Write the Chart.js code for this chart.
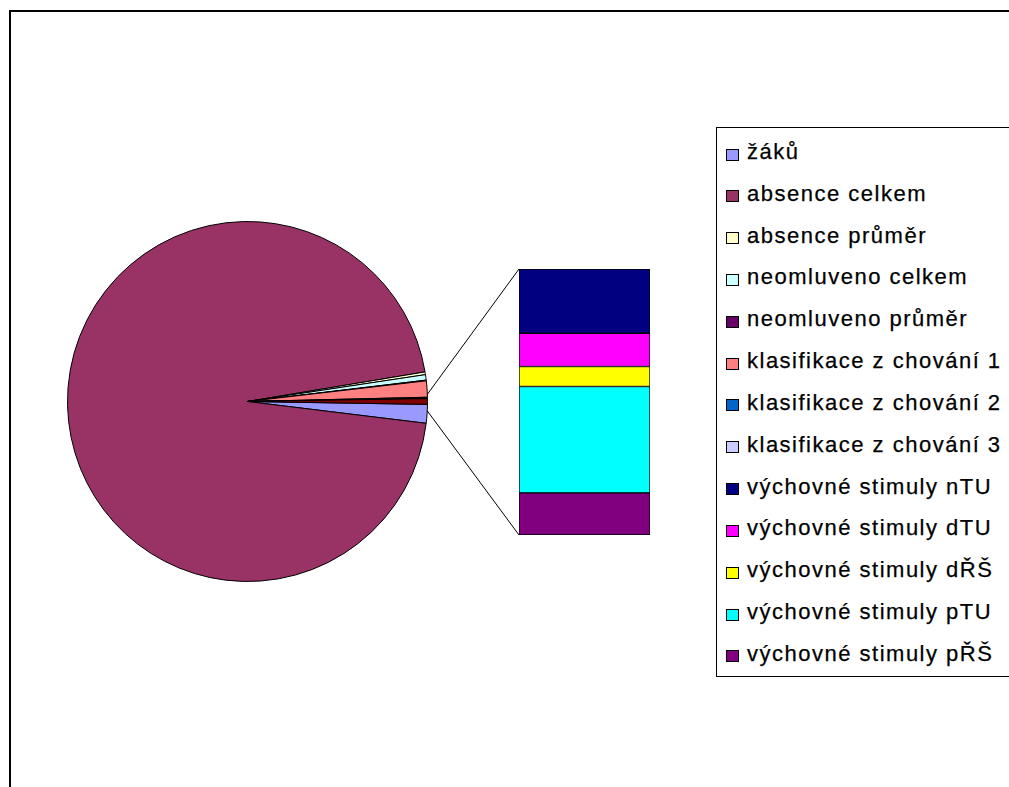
<!DOCTYPE html>
<html>
<head>
<meta charset="utf-8">
<script src="https://cdn.jsdelivr.net/npm/chart.js@4/dist/chart.umd.min.js"></script>
<style>
  html, body { margin: 0; padding: 0; background: #fff; width: 1009px; height: 787px; overflow: hidden; position: relative; font-family: "Liberation Sans", Arial, sans-serif; }
  #frame { position: absolute; left: 9px; top: 10px; width: 2000px; height: 2000px; border-left: 2px solid #000; border-top: 2px solid #000; }
  #pie { position: absolute; left: 0; top: 0; }
  #bar { position: absolute; left: 518px; top: 268px; }
  #legend { position: absolute; left: 716px; top: 127px; width: 400px; height: 548px; border: 1px solid #000; background: #fff; }
  .mk { position: absolute; width: 11px; height: 10px; border: 1px solid #000; }
  .tx { position: absolute; font-size: 22px; line-height: 22px; letter-spacing: 1.5px; color: #000; white-space: nowrap; -webkit-text-stroke: 0.25px #000; }
</style>
</head>
<body>
<div id="frame"></div>
<canvas id="pie" width="1009" height="787"></canvas>
<canvas id="bar" width="133" height="268"></canvas>
<div id="legend"></div>
<script>
// ---- data ----
const pieCategories = ['žáků', 'absence celkem', 'absence průměr', 'neomluveno celkem', 'neomluveno průměr', 'klasifikace z chování 1', 'klasifikace z chování 2', 'klasifikace z chování 3'];
const pieValues = [392, 22298, 57, 114, 15, 340, 22, 6];
const pieColors = ['#9999FF', '#993366', '#FFFFCC', '#CCFFFF', '#660066', '#FF8080', '#0066CC', '#CCCCFF'];
const barCategories = ['výchovné stimuly nTU', 'výchovné stimuly dTU', 'výchovné stimuly dŘŠ', 'výchovné stimuly pTU', 'výchovné stimuly pŘŠ'];
const barValues = [29, 15, 9, 48, 19];
const barColors = ['#000080', '#FF00FF', '#FFFF00', '#00FFFF', '#800080'];
const otherColor = '#800000';

// ---- derived ----
const otherTotal = barValues.reduce((a, b) => a + b, 0);
const pieTotal = pieValues.reduce((a, b) => a + b, 0) + otherTotal;
const otherDeg = otherTotal / pieTotal * 360;

// ---- bar (stack of "other") ----
const barDatasets = barCategories.map((c, i) => ({
  label: c, data: [barValues[i]], backgroundColor: barColors[i],
  borderColor: '#000', borderWidth: 1, borderSkipped: false,
  barPercentage: 1, categoryPercentage: 1
})).reverse();
const barChart = new Chart(document.getElementById('bar'), {
  type: 'bar',
  data: { labels: [''], datasets: barDatasets },
  options: {
    responsive: false, animation: false, devicePixelRatio: 1,
    layout: { padding: 1 },
    plugins: { legend: { display: false }, tooltip: { enabled: false } },
    scales: {
      x: { stacked: true, display: false },
      y: { stacked: true, display: false, min: 0, max: otherTotal }
    }
  }
});

// ---- connectors ----
const connectors = {
  id: 'connectors',
  afterDraw(chart) {
    const meta = chart.getDatasetMeta(0);
    const arc = meta.data[meta.data.length - 1];
    const p = arc.getProps(['x', 'y', 'outerRadius', 'startAngle', 'endAngle'], true);
    const mid = (p.startAngle + p.endAngle) / 2;
    const a1 = mid - 0.04, a2 = mid + 0.052;
    const topMeta = barChart.getDatasetMeta(barDatasets.length - 1).data[0];
    const botMeta = barChart.getDatasetMeta(0).data[0];
    const off = { x: 518, y: 268 };
    const left = off.x + topMeta.x - topMeta.width / 2;
    const top = off.y + topMeta.y;
    const bottom = off.y + botMeta.base;
    const ctx = chart.ctx;
    ctx.save();
    ctx.strokeStyle = '#000';
    ctx.lineWidth = 1;
    ctx.beginPath();
    ctx.moveTo(p.x + p.outerRadius * Math.cos(a1), p.y + p.outerRadius * Math.sin(a1));
    ctx.lineTo(left, top);
    ctx.moveTo(p.x + p.outerRadius * Math.cos(a2), p.y + p.outerRadius * Math.sin(a2));
    ctx.lineTo(left, bottom);
    ctx.stroke();
    ctx.restore();
  }
};

// ---- pie ----
new Chart(document.getElementById('pie'), {
  type: 'pie',
  data: {
    labels: pieCategories.concat(['Other']),
    datasets: [{
      data: pieValues.concat([otherTotal]),
      backgroundColor: pieColors.concat([otherColor]),
      borderColor: '#000', borderWidth: 1
    }]
  },
  options: {
    responsive: false, animation: false, devicePixelRatio: 1,
    rotation: 90 + otherDeg / 2,
    layout: { padding: { left: 67, top: 221, right: 581, bottom: 205 } },
    plugins: { legend: { display: false }, tooltip: { enabled: false } }
  },
  plugins: [connectors]
});

// ---- legend ----
const legend = document.getElementById('legend');
const legItems = pieCategories.map((c, i) => [c, pieColors[i]]).concat(barCategories.map((c, i) => [c, barColors[i]]));
legItems.forEach(([label, color], i) => {
  const mk = document.createElement('div');
  mk.className = 'mk';
  mk.style.background = color;
  mk.style.left = (726 - 717) + 'px';
  mk.style.top = (148.5 + i * 41.83 - 128) + 'px';
  legend.appendChild(mk);
  const tx = document.createElement('div');
  tx.className = 'tx';
  tx.textContent = label;
  tx.style.left = (747 - 717) + 'px';
  tx.style.top = (141 + i * 41.83 - 128) + 'px';
  legend.appendChild(tx);
});
</script>
</body>
</html>
